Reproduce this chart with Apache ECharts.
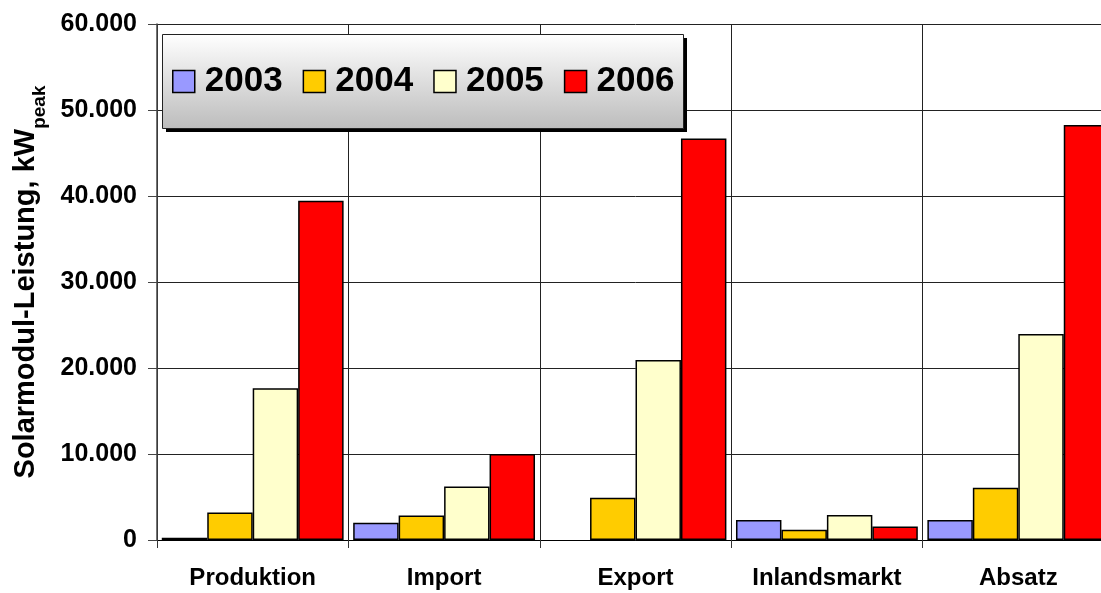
<!DOCTYPE html>
<html>
<head>
<meta charset="utf-8">
<script src="https://cdn.jsdelivr.net/npm/echarts@6/dist/echarts.min.js"></script>
<style>
html,body{margin:0;padding:0;background:#fff;overflow:hidden;width:1101px;height:593px;}
#chart{width:1114px;height:593px;}
</style>
</head>
<body>
<div id="chart"></div>
<script>
const categories = ['Produktion', 'Import', 'Export', 'Inlandsmarkt', 'Absatz'];
const seriesNames = ['2003', '2004', '2005', '2006'];
const values2003 = [270, 2010, null, 2320, 2320];
const values2004 = [3200, 2860, 4910, 1200, 6070];
const values2005 = [17650, 6220, 20940, 2900, 23960];
const values2006 = [39440, 9990, 46690, 1580, 48270];
const yTicks = { min: 0, max: 60000, interval: 10000 };
const colors = ['#9999FF', '#FFCC00', '#FFFFCC', '#FF0000'];

const allValues = [values2003, values2004, values2005, values2006];
const font = 'Arial, "Liberation Sans", sans-serif';

const chart = echarts.init(document.getElementById('chart'));
chart.setOption({
  animation: false,
  backgroundColor: '#fff',
  grid: { left: 157, top: 24, right: 0, height: 516, containLabel: false },
  graphic: [
    { type: 'rect', left: 166, top: 38, z: 5, shape: { width: 521, height: 94 }, style: { fill: '#000' } },
    { type: 'rect', left: 162, top: 34, z: 6,
      shape: { width: 521, height: 94 },
      style: {
        fill: new echarts.graphic.LinearGradient(0, 0, 0, 1, [
          { offset: 0, color: '#ffffff' }, { offset: 1, color: '#bcbcbc' }
        ]),
        stroke: '#222', lineWidth: 1
      }
    }
  ],
  legend: {
    left: 163, top: 35, z: 10,
    padding: [29, 8, 29, 9],
    icon: 'rect',
    itemWidth: 22, itemHeight: 22, itemGap: 20,
    textStyle: { fontSize: 35, fontWeight: 'bold', color: '#000', fontFamily: font, padding: [0, 0, 0, 5] },
    data: seriesNames.map(n => ({ name: n, itemStyle: { borderColor: '#000', borderWidth: 1.5 } }))
  },
  xAxis: {
    type: 'category',
    data: categories,
    axisLine: { lineStyle: { color: '#000', width: 1 } },
    axisTick: { show: true, interval: 0, length: 8, lineStyle: { color: '#333' } },
    splitLine: { show: true, interval: 0, lineStyle: { color: '#222', width: 1 } },
    axisLabel: { interval: 0, fontSize: 24, fontWeight: 'bold', color: '#000', fontFamily: font, margin: 26 }
  },
  yAxis: {
    type: 'value',
    min: yTicks.min, max: yTicks.max, interval: yTicks.interval,
    name: '{m|Solarmodul-Leistung, kW}{s|peak}',
    nameLocation: 'middle',
    nameGap: 111,
    nameRotate: 90,
    nameTextStyle: {
      rich: {
        m: { fontSize: 29, fontWeight: 'bold', color: '#000', fontFamily: font },
        s: { fontSize: 19, fontWeight: 'bold', color: '#000', fontFamily: font, verticalAlign: 'bottom', padding: [0, 0, -9, 0] }
      }
    },
    axisLine: { show: true, lineStyle: { color: '#444', width: 1.5 } },
    axisTick: { show: true, length: 9, lineStyle: { color: '#444' } },
    splitLine: { show: true, lineStyle: { color: '#222', width: 1 } },
    axisLabel: {
      fontSize: 25, fontWeight: 'bold', color: '#000', fontFamily: font, margin: 20,
      formatter: v => String(v).replace(/\B(?=(\d{3})+(?!\d))/g, '.')
    }
  },
  series: seriesNames.map((n, i) => ({
    name: n,
    type: 'bar',
    data: allValues[i],
    barGap: '0%',
    barCategoryGap: '5%',
    itemStyle: { color: colors[i], borderColor: '#000', borderWidth: 1.5 }
  }))
});
</script>
</body>
</html>
